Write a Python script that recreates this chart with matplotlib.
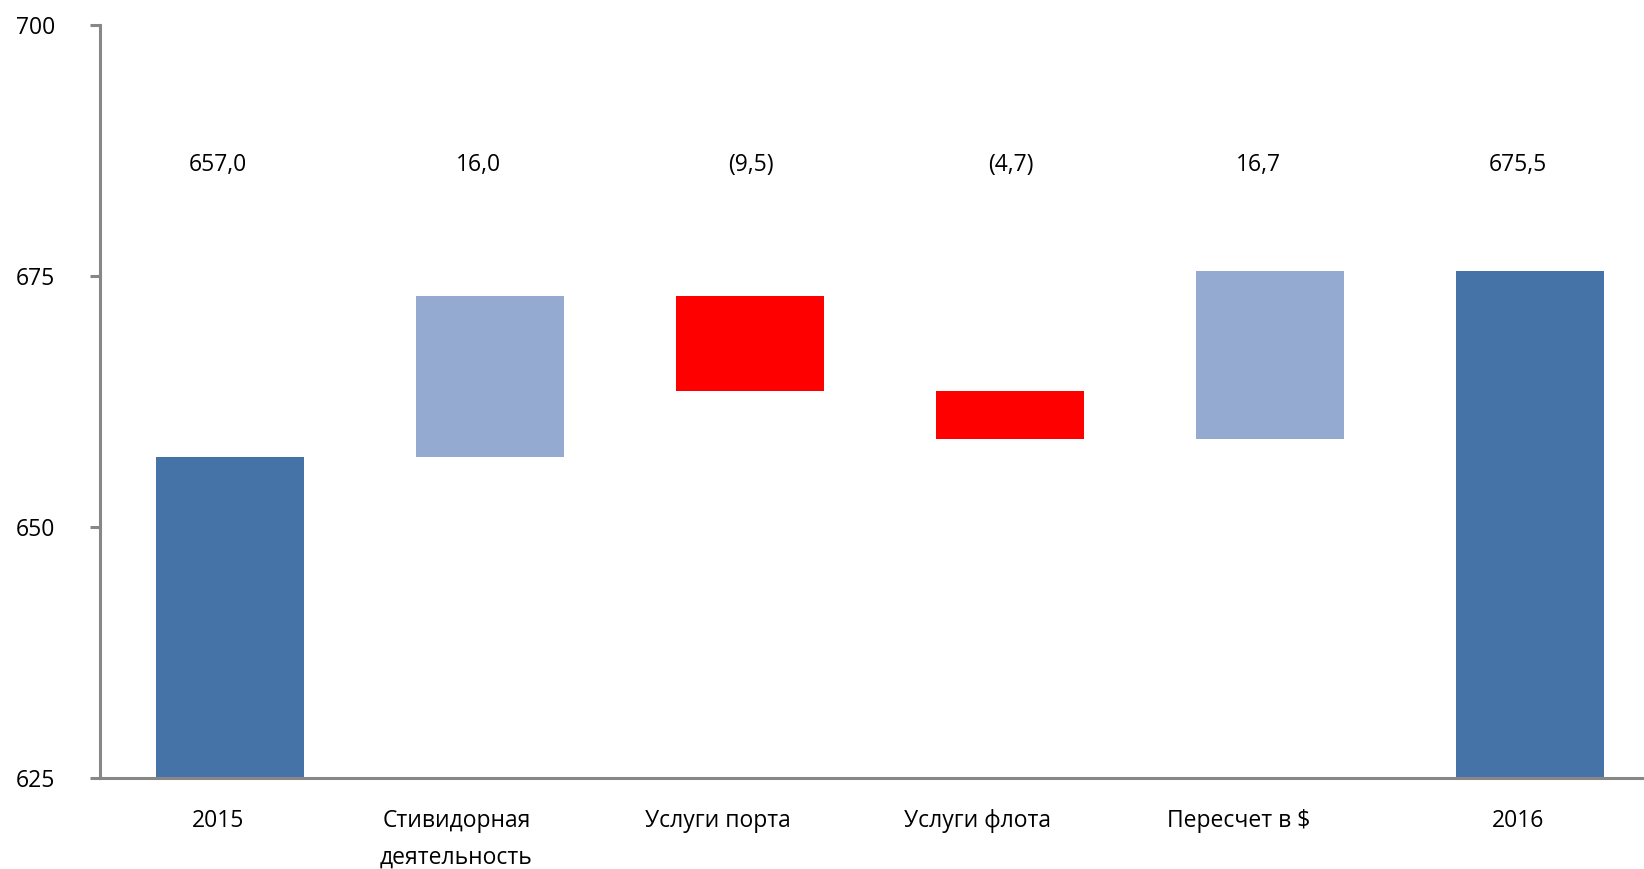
import matplotlib
matplotlib.use("Agg")
import matplotlib.pyplot as plt
from matplotlib.transforms import ScaledTranslation

categories = ["2015", "Стивидорная\nдеятельность", "Услуги порта", "Услуги флота", "Пересчет в $", "2016"]
start_value = 657.0
deltas = [16.0, -9.5, -4.7, 16.7]
end_value = 675.5
yticks = [625, 650, 675, 700]

dark = "#4673A7"
light = "#95AAD0"
red = "#FF0000"
axis_gray = "#878787"

plt.rcParams['font.family'] = ['Open Sans', 'DejaVu Sans']
FS = 16.5

fig = plt.figure(figsize=(16.44, 8.69), dpi=100)
W, H = 1644, 869
left_px, right_px, top_px, bottom_px = 100, 1644, 25, 778
ax = fig.add_axes([left_px / W, 1 - bottom_px / H, (right_px - left_px) / W, (bottom_px - top_px) / H])

x = list(range(len(categories)))
bottoms, heights, colors, labels, signs = [], [], [], [], []
bottoms.append(625); heights.append(start_value - 625); colors.append(dark)
labels.append(f"{start_value:.1f}".replace(".", ",")); signs.append(1)
level = start_value
for d in deltas:
    if d >= 0:
        bottoms.append(level); heights.append(d); colors.append(light)
        labels.append(f"{d:.1f}".replace(".", ",")); signs.append(1)
    else:
        bottoms.append(level + d); heights.append(-d); colors.append(red)
        labels.append("(" + f"{-d:.1f}".replace(".", ",") + ")"); signs.append(-1)
    level += d
bottoms.append(625); heights.append(end_value - 625); colors.append(dark)
labels.append(f"{end_value:.1f}".replace(".", ",")); signs.append(1)

ax.bar(x, heights, bottom=bottoms, width=0.57, color=colors, zorder=2)

for xi, lab, sg in zip(x, labels, signs):
    shift = -12 if sg > 0 else 1
    ax.text(xi, 686.1, lab, ha="center", va="center", fontsize=FS, color="black",
            transform=ax.transData + ScaledTranslation(shift / 100, 0, fig.dpi_scale_trans))

ax.set_ylim(625, 700)
ax.set_xlim(-0.5, (right_px - left_px) / 260 - 0.5)
ax.set_yticks(yticks)
ax.set_yticklabels([str(t) for t in yticks], fontsize=FS)
ax.set_xticks(x)
ax.set_xticklabels(categories, fontsize=FS, linespacing=1.72, va="top")

for s in ["top", "right"]:
    ax.spines[s].set_visible(False)
for s in ["left", "bottom"]:
    ax.spines[s].set_color(axis_gray)
    ax.spines[s].set_linewidth(2.2)
ax.tick_params(axis="y", length=7.5, width=2.2, color=axis_gray, pad=25, labelsize=FS)
ax.tick_params(axis="x", length=0, pad=22)

fig.canvas.draw()
renderer = fig.canvas.get_renderer()
for lbl in ax.get_xticklabels():
    w = lbl.get_window_extent(renderer).width
    lbl.set_transform(lbl.get_transform() + ScaledTranslation(-0.22 * w / 100, 0, fig.dpi_scale_trans))

fig.savefig("out.png", dpi=100)
